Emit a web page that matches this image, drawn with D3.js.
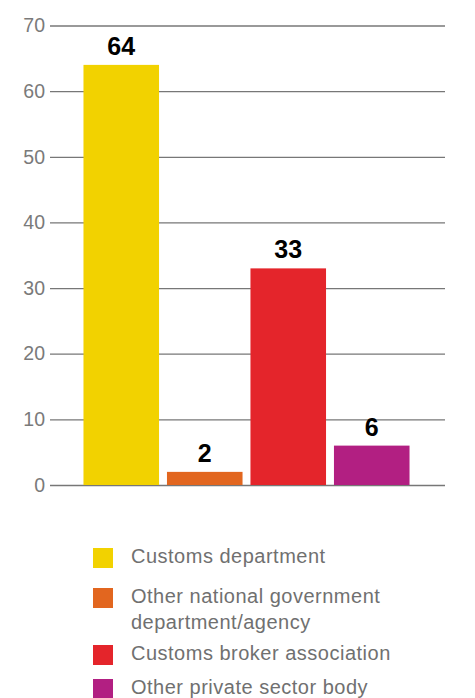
<!DOCTYPE html>
<html>
  <head>
    <meta charset="utf-8">
    <title>Bar chart</title>
    <script src="https://d3js.org/d3.v7.min.js"></script>
    <style>
      body { margin: 0; background: #fff; }
      svg { display: block; font-family: "Liberation Sans", Arial, sans-serif; }
    </style>
  </head>
  <body>
    <svg width="475" height="698"></svg>
    <script>
      var categories = ["Customs department", "Other national government department/agency", "Customs broker association", "Other private sector body"];
      var values = [64, 2, 33, 6];
      var colours = ["#f2d200", "#e2661f", "#e4252b", "#b21f82"];
      var legendLines = [["Customs department"], ["Other national government", "department/agency"], ["Customs broker association"], ["Other private sector body"]];
      var yTicks = [0, 10, 20, 30, 40, 50, 60, 70];

      var svg = d3.select("svg");

      var y = d3.scaleLinear().domain([0, 70]).range([485, 25.5]);
      var x = d3.scaleBand().domain(categories).range([79.3, 413.7]).paddingInner(0.095).paddingOuter(0.05);

      // gridlines + tick labels
      var yAxis = d3.axisLeft(y).tickValues(yTicks).tickSize(-395).tickPadding(5);
      var g = svg.append("g").attr("transform", "translate(50,0)").call(yAxis);
      g.select(".domain").remove();
      g.attr("font-size", 19.5).attr("font-family", "Liberation Sans, Arial, sans-serif");
      g.selectAll(".tick line").attr("stroke", "#777").attr("stroke-width", 1.3);
      g.selectAll(".tick text").attr("fill", "#7a7a7a");

      svg.selectAll("rect.bar")
        .data(values)
        .enter()
        .append("rect")
        .attr("class", "bar")
        .attr("x", function (d, i) { return x(categories[i]); })
        .attr("y", function (d) { return y(d); })
        .attr("width", x.bandwidth())
        .attr("height", function (d) { return y(0) - y(d); })
        .attr("fill", function (d, i) { return colours[i]; });

      svg.selectAll("text.val")
        .data(values)
        .enter()
        .append("text")
        .attr("class", "val")
        .attr("x", function (d, i) { return x(categories[i]) + x.bandwidth() / 2; })
        .attr("y", function (d) { return y(d) - 10; })
        .attr("text-anchor", "middle")
        .attr("font-size", 25)
        .attr("font-weight", "bold")
        .attr("fill", "#000")
        .text(function (d) { return d; });

      // legend
      var legendY = [548, 588, 645, 679];
      var leg = svg.selectAll("g.leg")
        .data(legendLines)
        .enter()
        .append("g")
        .attr("class", "leg")
        .attr("transform", function (d, i) { return "translate(93," + legendY[i] + ")"; });
      leg.append("rect")
        .attr("width", 20).attr("height", 20)
        .attr("fill", function (d, i) { return colours[i]; });
      leg.each(function (lines) {
        var t = d3.select(this).append("text")
          .attr("x", 38).attr("y", 15)
          .attr("font-size", 20).attr("letter-spacing", 0.5).attr("fill", "#707070");
        lines.forEach(function (s, j) {
          t.append("tspan").attr("x", 38).attr("dy", j === 0 ? 0 : 26).text(s);
        });
      });
    </script>
  </body>
</html>
